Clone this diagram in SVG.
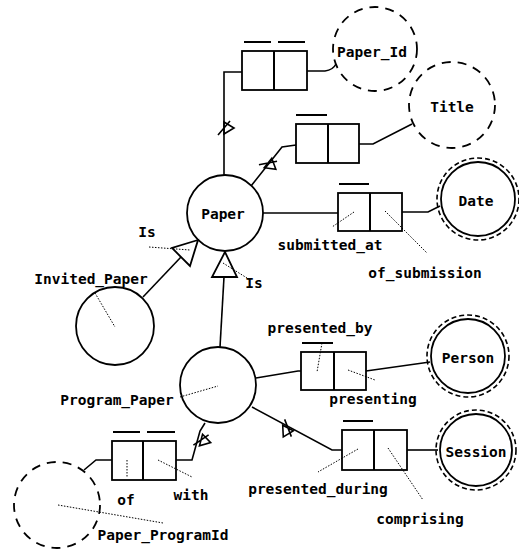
<svg xmlns="http://www.w3.org/2000/svg" xmlns:xlink="http://www.w3.org/1999/xlink" width="519" height="553" viewBox="0 0 519 553">
<style>
.ent{fill:none;stroke:#000;stroke-width:1.8}
.val{fill:none;stroke:#000;stroke-width:1.8;stroke-dasharray:9,7}
.ring{fill:none;stroke:#000;stroke-width:1.6;stroke-dasharray:5,3}
.box{fill:none;stroke:#000;stroke-width:1.8}
.bar{stroke:#000;stroke-width:2}
.ln{fill:none;stroke:#000;stroke-width:1.6}
.dot{fill:none;stroke:#000;stroke-width:1;stroke-dasharray:1.5,1.5}
.tri{fill:#fff;stroke:#000;stroke-width:1.8}
text{font-family:"DejaVu Sans Mono","Liberation Mono",monospace;font-size:14.5px;font-weight:bold;fill:#000;text-anchor:middle}
</style>
<defs>
<path id="tick" d="M0,-6 L10,0 L0,6 Z M-6,7 L6,-7" fill="none" stroke="#000" stroke-width="1.6"/>
</defs>
<rect width="519" height="553" fill="#fff"/>
<g id="connectors">
<path class="ln" d="M224,175 L224,72 L242,72"/>
<path class="ln" d="M307,71 L325,71 Q333,70 336,64"/>
<path class="ln" d="M251,186 L282,147 L296,145"/>
<path class="ln" d="M359,144 L373,144 L412,124"/>
<path class="ln" d="M263,213 L338,213"/>
<path class="ln" d="M402,212 L428,212 L440,206"/>
<path class="ln" d="M143,297 L181,257"/>
<path class="ln" d="M224,277 L220,347"/>
<path class="ln" d="M256,378 L298,371 L301,371"/>
<path class="ln" d="M366,371 L430,362"/>
<path class="ln" d="M252,407 L332,450 L342,450"/>
<path class="ln" d="M407,450 L438,450"/>
<path class="ln" d="M176,460 L192,460 L200,431 L205,423"/>
<path class="ln" d="M112,460 L96,460 L84,470"/>
<use xlink:href="#tick" transform="translate(224,128)"/>
<use xlink:href="#tick" transform="translate(268,163) rotate(38.5)"/>
<use xlink:href="#tick" transform="translate(288,428) rotate(118)"/>
<use xlink:href="#tick" transform="translate(201,440) rotate(15)"/>
<polygon class="tri" points="198,240 172,248 190,266"/>
<polygon class="tri" points="225,252 212,277 237,277"/>
<path class="dot" d="M149,247 L190,250"/>
<path class="dot" d="M223,263 L247,278"/>
<path class="dot" d="M95,293 L115,327"/>
<path class="dot" d="M180,397 L218,386"/>
<path class="dot" d="M354,212 L332,227"/>
<path class="dot" d="M385,211 L427,253"/>
<path class="dot" d="M322,343 L317,372"/>
<path class="dot" d="M348,370 L375,380"/>
<path class="dot" d="M358,449 L318,472"/>
<path class="dot" d="M388,448 L423,500"/>
<path class="dot" d="M127,460 L127,477"/>
<path class="dot" d="M158,460 L192,477"/>
<path class="dot" d="M58,505 L163,523"/>
</g>
<g id="Paper">
<circle class="ent" cx="225" cy="213" r="38"/>
<text x="223" y="219">Paper</text>
</g>
<g id="Invited_Paper">
<circle class="ent" cx="115" cy="326" r="39"/>
<text x="91" y="284">Invited_Paper</text>
</g>
<g id="Program_Paper">
<circle class="ent" cx="218" cy="385" r="38"/>
<text x="117" y="405">Program_Paper</text>
</g>
<g id="Paper_Id">
<circle class="val" cx="375" cy="49" r="42"/>
<text x="372" y="57">Paper_Id</text>
</g>
<g id="Title">
<circle class="val" cx="452" cy="105" r="43"/>
<text x="452" y="112">Title</text>
</g>
<g id="Paper_ProgramId">
<circle class="val" cx="57" cy="505" r="43"/>
<text x="163" y="540">Paper_ProgramId</text>
</g>
<g id="Date">
<circle class="ent" cx="478" cy="199" r="37"/>
<circle class="ring" cx="478" cy="199" r="41"/>
<text x="476" y="206">Date</text>
</g>
<g id="Person">
<circle class="ent" cx="468" cy="356" r="37"/>
<circle class="ring" cx="468" cy="356" r="41"/>
<text x="468" y="363">Person</text>
</g>
<g id="Session">
<circle class="ent" cx="476" cy="450" r="36"/>
<circle class="ring" cx="476" cy="450" r="40"/>
<text x="476" y="457">Session</text>
</g>
<g id="fact_paper_id">
<rect class="box" x="242" y="51" width="65" height="39"/>
<line class="bar" x1="274" y1="51" x2="274" y2="90"/>
<line class="bar" x1="244" y1="42" x2="271" y2="42"/>
<line class="bar" x1="278" y1="42" x2="305" y2="42"/>
</g>
<g id="fact_title">
<rect class="box" x="296" y="124" width="63" height="39"/>
<line class="bar" x1="328" y1="124" x2="328" y2="163"/>
<line class="bar" x1="296" y1="115" x2="327" y2="115"/>
</g>
<g id="fact_date">
<rect class="box" x="338" y="193" width="64" height="38"/>
<line class="bar" x1="370" y1="193" x2="370" y2="231"/>
<line class="bar" x1="339" y1="184" x2="369" y2="184"/>
<text x="330" y="250">submitted_at</text>
<text x="425" y="278">of_submission</text>
</g>
<g id="fact_person">
<rect class="box" x="301" y="352" width="65" height="38"/>
<line class="bar" x1="334" y1="352" x2="334" y2="390"/>
<line class="bar" x1="302" y1="343" x2="333" y2="343"/>
<text x="320" y="333">presented_by</text>
<text x="373" y="404">presenting</text>
</g>
<g id="fact_session">
<rect class="box" x="342" y="430" width="65" height="40"/>
<line class="bar" x1="374" y1="430" x2="374" y2="470"/>
<line class="bar" x1="343" y1="421" x2="373" y2="421"/>
<text x="318" y="494">presented_during</text>
<text x="420" y="524">comprising</text>
</g>
<g id="fact_programid">
<rect class="box" x="112" y="441" width="64" height="39"/>
<line class="bar" x1="143" y1="441" x2="143" y2="480"/>
<line class="bar" x1="113" y1="432" x2="140" y2="432"/>
<line class="bar" x1="147" y1="432" x2="175" y2="432"/>
<text x="126" y="505">of</text>
<text x="191" y="500">with</text>
</g>
<g id="subtype_labels">
<text x="147" y="237">Is</text>
<text x="254" y="288">Is</text>
</g>
</svg>
